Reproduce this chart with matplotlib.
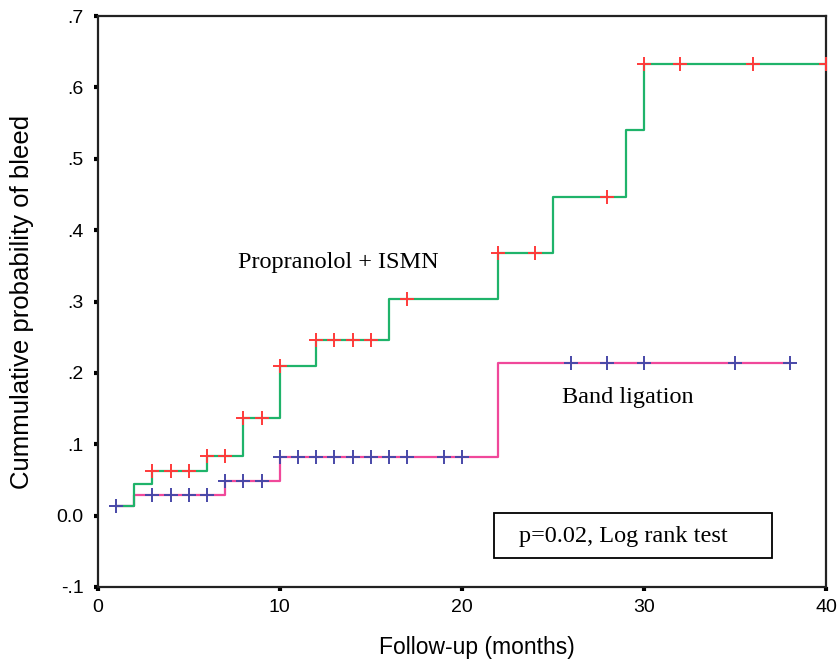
import numpy as np
import matplotlib
matplotlib.use("Agg")
import matplotlib.pyplot as plt
from matplotlib.patches import Rectangle

# Kaplan-Meier cumulative probability of bleed
prop_times = [1, 2, 3, 6, 8, 10, 12, 16, 22, 25, 29, 30, 40]
prop_values = [0.014, 0.045, 0.062, 0.084, 0.137, 0.210, 0.246, 0.304,
               0.368, 0.447, 0.540, 0.633, 0.633]
prop_censored = [3, 4, 5, 6, 7, 8, 9, 10, 12, 13, 14, 15, 17, 22, 24, 28,
                 30, 32, 36, 40]

band_times = [1, 2, 7, 10, 22, 38]
band_values = [0.014, 0.029, 0.049, 0.082, 0.214, 0.214]
band_censored = [1, 3, 4, 5, 6, 7, 8, 9, 10, 11, 12, 13, 14, 15, 16, 17,
                 19, 20, 26, 28, 30, 35, 38]

y_ticks = [-0.1, 0.0, 0.1, 0.2, 0.3, 0.4, 0.5, 0.6, 0.7]
y_ticklabels = ["-.1", "0.0", ".1", ".2", ".3", ".4", ".5", ".6", ".7"]
x_ticks = [0, 10, 20, 30, 40]


def step_value(times, values, t):
    idx = np.searchsorted(times, t, side="right") - 1
    return values[idx]


plt.rcParams["font.family"] = ["Liberation Sans", "DejaVu Sans"]
serif = ["Liberation Serif", "DejaVu Serif"]

fig = plt.figure(figsize=(8.4, 6.62), dpi=100)
ax = fig.add_axes([0.1163, 0.1133, 0.8670, 0.8625])

ax.step(band_times, band_values, where="post", color="#f0489a", lw=1.6, zorder=2)
ax.step(prop_times, prop_values, where="post", color="#1fb36a", lw=1.6, zorder=3)

band_cy = [step_value(band_times, band_values, t) for t in band_censored]
prop_cy = [step_value(prop_times, prop_values, t) for t in prop_censored]
ax.plot(band_censored, band_cy, ls="none", marker="+", ms=10, mew=1.4,
        color="#4848a8", zorder=4)
ax.plot(prop_censored, prop_cy, ls="none", marker="+", ms=10, mew=1.4,
        color="#ff3a3a", zorder=4)

ax.set_xlim(0, 40)
ax.set_ylim(-0.1, 0.7)
ax.set_xticks(x_ticks)
ax.set_yticks(y_ticks)
ax.set_yticklabels(y_ticklabels)
ax.tick_params(direction="out", length=3, width=3, color="black",
               labelsize=14, pad=6)
ax.tick_params(axis="y", pad=7)

for sp in ax.spines.values():
    sp.set_linewidth(1.6)
    sp.set_color("#222222")

ax.set_xlabel("Follow-up (months)", fontsize=16.5)
ax.xaxis.set_label_coords(0.52, -0.085)
ax.set_ylabel("Cummulative probability of bleed", fontsize=18.5)
ax.yaxis.set_label_coords(-0.088, 0.5)

ax.text(7.7, 0.355, "Propranolol + ISMN", family=serif, fontsize=17.5,
        va="center", ha="left")
ax.text(25.5, 0.165, "Band ligation", family=serif, fontsize=17.5,
        va="center", ha="left")

ax.add_patch(Rectangle((21.76, -0.0594), 15.27, 0.063, fill=False,
                       lw=1.3, edgecolor="black", zorder=5))
ax.text(28.9, -0.029, "p=0.02, Log rank test", family=serif, fontsize=17.5,
        va="center", ha="center")

fig.savefig("out.png", dpi=100)
